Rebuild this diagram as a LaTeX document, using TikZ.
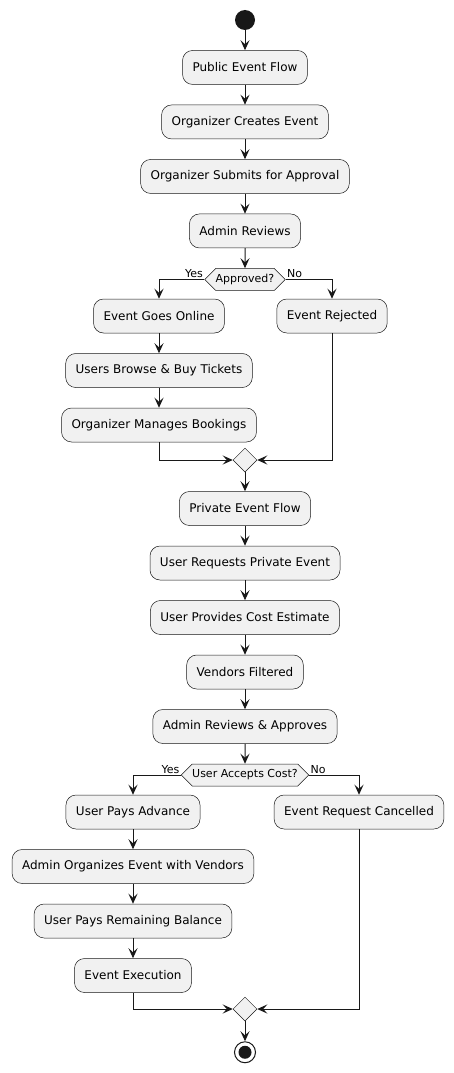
\documentclass[tikz,border=0pt]{standalone}
\usepackage{fontspec}
\setmainfont{DejaVu Sans}
\usetikzlibrary{shapes.geometric,shapes.symbols,positioning,arrows.meta}
\definecolor{actfill}{HTML}{F1F1F1}
\definecolor{actline}{HTML}{181818}

\begin{document}
\begin{tikzpicture}[
    x=1pt, y=-1pt,
    node distance=20pt,
    act/.style={draw=actline, line width=0.5pt, fill=actfill, rounded corners=10pt, minimum height=34pt, inner xsep=10pt, font=\fontsize{12}{14}\selectfont},
    decide/.style={draw=actline, line width=0.5pt, fill=actfill, signal, signal to=west and east, minimum height=22pt, inner xsep=0pt, inner ysep=2pt, font=\fontsize{11}{13}\selectfont},
    merge/.style={draw=actline, line width=0.5pt, fill=actfill, diamond, minimum size=24pt, inner sep=0pt},
    startdot/.style={circle, fill=actline, minimum size=20pt, inner sep=0pt},
    enddot/.style={circle, draw=actline, line width=1pt, fill=white, minimum size=21pt, inner sep=0pt, path picture={\fill[actline] (path picture bounding box.center) circle (6.5pt);}},
    lbl/.style={font=\fontsize{11}{13}\selectfont, inner sep=1pt},
    arrow/.style={-{Stealth[length=10pt,width=9pt,inset=4pt]}, line width=1pt, draw=actline}
]
\useasboundingbox (0,0) rectangle (454,1073);

% Public event flow
\node[startdot] (start) at (245,20) {};
\node[act, below=20pt of start] (pub) {Public Event Flow};
\node[act, below=of pub] (create) {Organizer Creates Event};
\node[act, below=of create] (submit) {Organizer Submits for Approval};
\node[act, below=of submit] (review) {Admin Reviews};
\node[decide, below=of review] (approved) {Approved?};

% Yes / No branches
\node[act] (online) at (159,316) {Event Goes Online};
\node[act, below=of online] (browse) {Users Browse \& Buy Tickets};
\node[act, below=of browse] (manage) {Organizer Manages Bookings};
\node[act] (rejected) at (332,316) {Event Rejected};
\node[merge] (join1) at (245,460) {};

% Private event flow
\node[act, below=19pt of join1] (private) {Private Event Flow};
\node[act, below=of private] (request) {User Requests Private Event};
\node[act, below=of request] (estimate) {User Provides Cost Estimate};
\node[act, below=of estimate] (vendors) {Vendors Filtered};
\node[act, below=of vendors] (approve) {Admin Reviews \& Approves};
\node[decide, below=of approve] (accepts) {User Accepts Cost?};

% Yes / No branches
\node[act] (advance) at (133,812) {User Pays Advance};
\node[act, below=of advance] (organize) {Admin Organizes Event with Vendors};
\node[act, below=of organize] (balance) {User Pays Remaining Balance};
\node[act, below=of balance] (execute) {Event Execution};
\node[act] (cancelled) at (359,812) {Event Request Cancelled};
\node[merge] (join2) at (245,1009) {};
\node[enddot, below=20pt of join2] (end) {};

% Straight arrows
\foreach \a/\b in {start/pub, pub/create, create/submit, submit/review, review/approved,
    online/browse, browse/manage, join1/private, private/request, request/estimate,
    estimate/vendors, vendors/approve, approve/accepts, advance/organize,
    organize/balance, balance/execute, join2/end}
    \draw[arrow] (\a) -- (\b);

% Decisions
\draw[arrow] (approved.west) -| (online.north) node[pos=0, lbl, anchor=south east] {Yes};
\draw[arrow] (approved.east) -| (rejected.north) node[pos=0, lbl, anchor=south west] {No};
\draw[arrow] (accepts.west) -| (advance.north) node[pos=0, lbl, anchor=south east] {Yes};
\draw[arrow] (accepts.east) -| (cancelled.north) node[pos=0, lbl, anchor=south west] {No};

% Merges
\draw[arrow] (manage.south) |- (join1.west);
\draw[arrow] (rejected.south) |- (join1.east);
\draw[arrow] (execute.south) |- (join2.west);
\draw[arrow] (cancelled.south) |- (join2.east);

\end{tikzpicture}
\end{document}
